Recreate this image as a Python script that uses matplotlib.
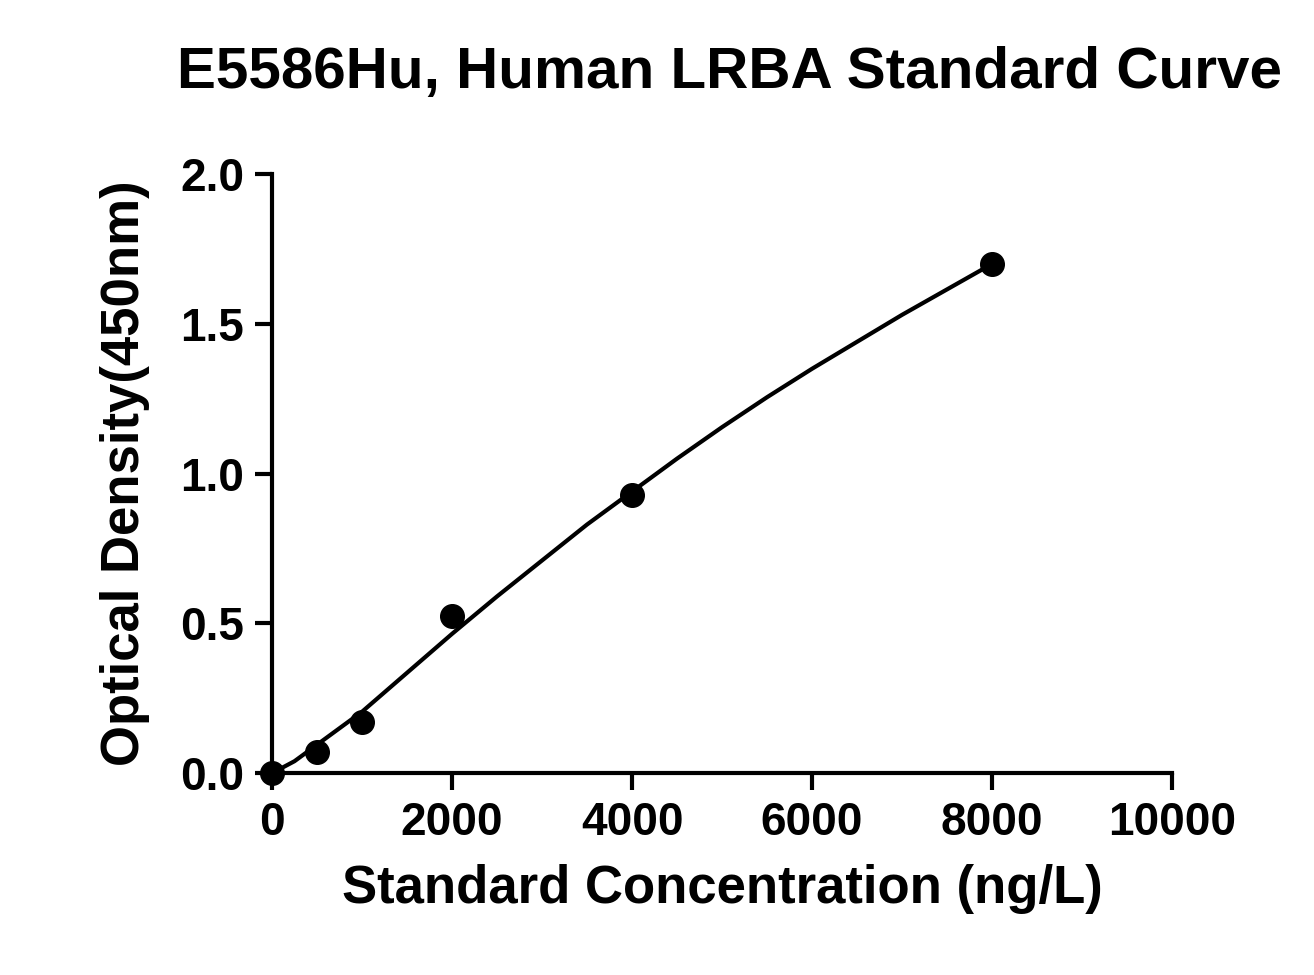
import matplotlib
matplotlib.use("Agg")
import matplotlib.pyplot as plt

plt.rcParams['font.family'] = ['Liberation Sans', 'DejaVu Sans']
plt.rcParams['font.weight'] = 'bold'

# standard points
conc = [0, 500, 1000, 2000, 4000, 8000]
od = [0.0, 0.07, 0.17, 0.525, 0.93, 1.70]

# fitted curve
curve_x = [0, 250, 500, 750, 1000, 1500, 2000, 2500, 3000, 3500, 4000, 4500,
           5000, 5500, 6000, 6500, 7000, 7500, 8000]
curve_y = [0.0, 0.04, 0.095, 0.15, 0.205, 0.335, 0.465, 0.59, 0.71, 0.83, 0.94, 1.05,
           1.155, 1.255, 1.35, 1.44, 1.53, 1.615, 1.70]

fig = plt.figure(figsize=(13.14, 9.75), dpi=100)
ax = fig.add_axes([0.207, 0.207, 0.685, 0.6145])
ax.plot(curve_x, curve_y, color='black', lw=3, zorder=2)
ax.plot(conc, od, 'o', color='black', ms=17, zorder=3, clip_on=False)

ax.set_xlim(0, 10000)
ax.set_ylim(0, 2.0)
ax.set_xticks([0, 2000, 4000, 6000, 8000, 10000])
ax.set_yticks([0.0, 0.5, 1.0, 1.5, 2.0])
ax.set_yticklabels(['0.0', '0.5', '1.0', '1.5', '2.0'])
for s in ['top', 'right']:
    ax.spines[s].set_visible(False)
for s in ['left', 'bottom']:
    ax.spines[s].set_linewidth(3)
ax.tick_params(width=3, length=12, labelsize=33, pad=8)
ax.set_xlabel('Standard Concentration (ng/L)', fontsize=38, fontweight='bold', labelpad=14)
ax.set_ylabel('Optical Density(450nm)', fontsize=38, fontweight='bold', labelpad=22)
fig.text(0.135, 0.925, 'E5586Hu, Human LRBA Standard Curve', fontsize=42,
         fontweight='bold', va='center')

fig.savefig('out.png', dpi=100)
